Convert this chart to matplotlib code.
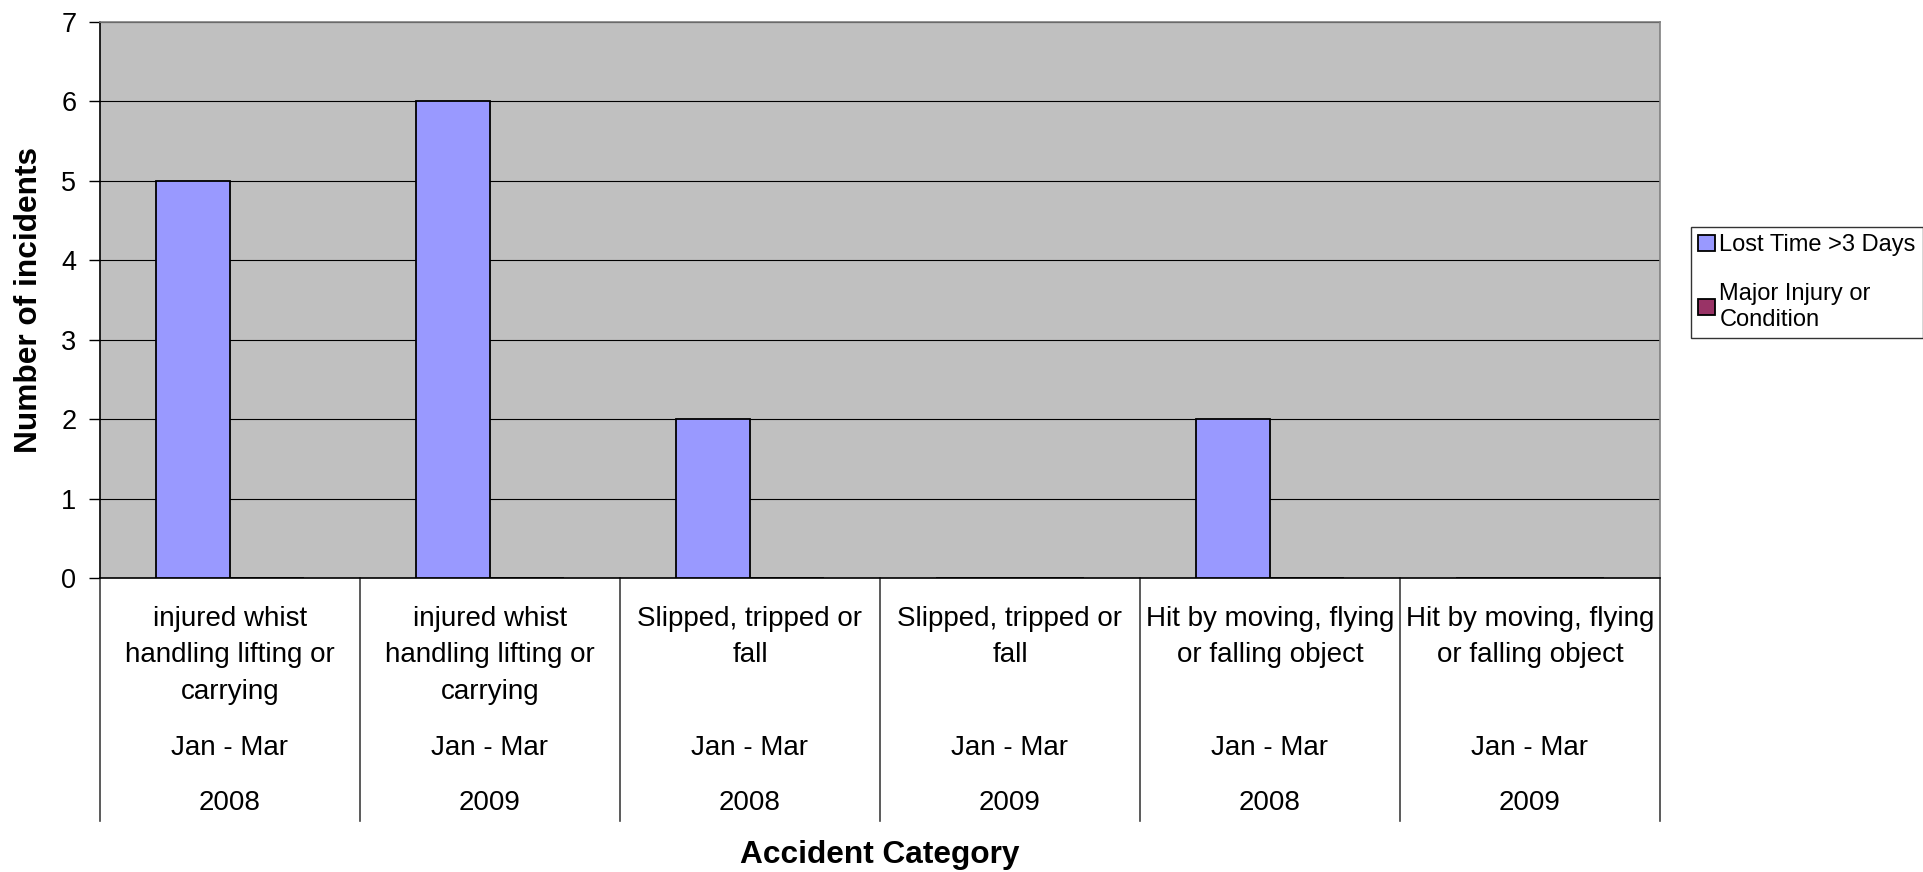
import matplotlib
matplotlib.use("Agg")
import matplotlib.pyplot as plt
from matplotlib.patches import Patch
import numpy as np

plt.rcParams['font.family'] = ['Liberation Sans', 'DejaVu Sans']

categories = ["injured whist\nhandling lifting or\ncarrying",
              "injured whist\nhandling lifting or\ncarrying",
              "Slipped, tripped or\nfall",
              "Slipped, tripped or\nfall",
              "Hit by moving, flying\nor falling object",
              "Hit by moving, flying\nor falling object"]
periods = ["Jan - Mar"] * 6
years = ["2008", "2009", "2008", "2009", "2008", "2009"]
lost_time = [5, 6, 2, 0, 2, 0]
major_injury = [0, 0, 0, 0, 0, 0]
series_names = ["Lost Time >3 Days", "Major Injury or\nCondition"]
colors = ["#9999FF", "#993366"]

W, H = 1923, 872
fig = plt.figure(figsize=(W / 100, H / 100), dpi=100)
x0, x1, y0, y1 = 100, 1660, 22, 578
ax = fig.add_axes([x0 / W, 1 - y1 / H, (x1 - x0) / W, (y1 - y0) / H])
ax.set_facecolor("#C0C0C0")

x = np.arange(len(categories))
bw = 1 / 3.5
ax.bar(x - bw / 2, lost_time, bw, color=colors[0], edgecolor="black", linewidth=1.3, zorder=3)
ax.bar(x + bw / 2, major_injury, bw, color=colors[1], edgecolor="black", linewidth=1.3, zorder=3)

ax.set_xlim(-0.5, len(categories) - 0.5)
ax.set_ylim(0, 7)
ax.set_yticks(range(8))
ax.tick_params(axis="y", labelsize=19.5, length=8, width=1, pad=9, direction="out")
ax.set_xticks([])
ax.grid(axis="y", color="black", linewidth=0.8, zorder=1)
ax.set_axisbelow(True)
for side in ["top", "right"]:
    ax.spines[side].set_color("#808080")
    ax.spines[side].set_linewidth(1.2)
ax.spines["left"].set_linewidth(1.2)
ax.spines["bottom"].set_linewidth(1.2)

# multi-level category labels below the axis
ah = y1 - y0
def frac(py):
    return (y1 - py) / ah

tr = ax.get_xaxis_transform()
for b in np.arange(len(categories) + 1) - 0.5:
    ax.plot([b, b], [0, frac(821)], color="#404040", lw=1.2, transform=tr, clip_on=False)
for i, cat in enumerate(categories):
    for j, line in enumerate(cat.split("\n")):
        ax.text(i, frac(619 + j * 36.5), line, transform=tr, ha="center", va="center", fontsize=20)
    ax.text(i, frac(748), periods[i], transform=tr, ha="center", va="center", fontsize=20)
    ax.text(i, frac(803), years[i], transform=tr, ha="center", va="center", fontsize=20)

ax.set_ylabel("Number of incidents", fontsize=22.8, fontweight="bold")
ax.yaxis.set_label_coords((29 - x0) / (x1 - x0), 0.5)
ax.set_xlabel("Accident Category", fontsize=22.8, fontweight="bold")
ax.xaxis.set_label_coords(0.5, frac(855))
ax.xaxis.label.set_va("center")
ax.yaxis.label.set_va("center")

handles = [Patch(facecolor=c, edgecolor="black", linewidth=1.3) for c in colors]
leg = fig.legend(handles, series_names, loc="upper left", bbox_to_anchor=(1691 / W, 1 - 227 / H),
                 fontsize=17, frameon=True, fancybox=False, edgecolor="black",
                 handlelength=0.7, handleheight=0.7, handletextpad=0.2, labelspacing=1.15,
                 borderpad=0.3, borderaxespad=0)
leg.get_frame().set_linewidth(1.0)

fig.savefig("out.png", dpi=100)
